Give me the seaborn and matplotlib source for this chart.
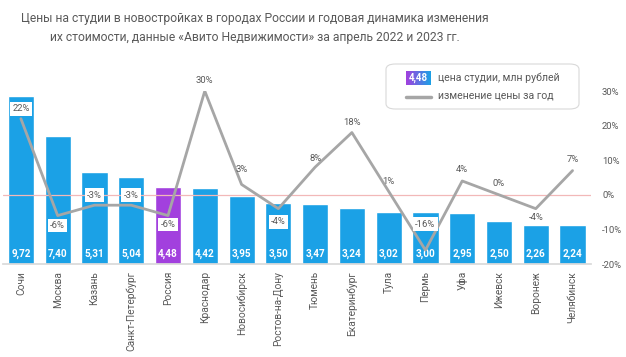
import numpy as np
import pandas as pd
import matplotlib.pyplot as plt
import seaborn as sns
from matplotlib.patches import FancyBboxPatch
from matplotlib.lines import Line2D
from matplotlib.colors import LinearSegmentedColormap

# Data
cities = ["Сочи", "Москва", "Казань", "Санкт-Петербург", "Россия", "Краснодар",
          "Новосибирск", "Ростов-на-Дону", "Тюмень", "Екатеринбург", "Тула",
          "Пермь", "Уфа", "Ижевск", "Воронеж", "Челябинск"]
prices = [9.72, 7.40, 5.31, 5.04, 4.48, 4.42, 3.95, 3.50, 3.47, 3.24, 3.02,
          3.00, 2.95, 2.50, 2.26, 2.24]
changes = [22, -6, -3, -3, -6, 30, 3, -4, 8, 18, 1, -16, 4, 0, -4, 7]

# label style: offset in px (positive = above), boxed or not
label_dy = [10, -10, 10, 10, -9, 11, 15, -13, 9, 10, 10, 26, 11, 11, -9, 11]
label_box = [True, True, True, True, True, False, False, True, False, False,
             False, True, False, False, False, False]

BLUE = "#1BA1E6"
PURPLE = "#A240DE"
GRAY_TXT = "#595959"

sns.set_theme(style="white")
plt.rcParams["font.family"] = ["Roboto", "DejaVu Sans"]

df = pd.DataFrame({"city": cities, "price": prices, "change": changes})
colors = [PURPLE if c == "Россия" else BLUE for c in cities]

W, H = 626, 357
fig = plt.figure(figsize=(W / 100, H / 100), dpi=100)
ax = fig.add_axes([0.004, 0.2605, 0.94, 0.4845])

sns.barplot(data=df, x="city", y="price", hue="city", palette=colors,
            legend=False, width=0.71, ax=ax, saturation=1)
ax.set_ylim(0, 10)
ax.set_xlim(-0.5, len(cities) - 0.5)
ax.set_yticks([])
ax.set_ylabel("")
ax.set_xlabel("")
for s in ["left", "right", "top"]:
    ax.spines[s].set_visible(False)
ax.spines["bottom"].set_color("#D9D9D9")
ax.tick_params(axis="x", length=0, pad=5)
ax.set_xticks(range(len(cities)))
ax.set_xticklabels(cities, rotation=90, fontsize=7.3, color=GRAY_TXT)

for i, p in enumerate(prices):
    ax.annotate(f"{p:.2f}".replace(".", ","), (i, 0), xytext=(0, 7.5),
                textcoords="offset points", ha="center", va="center",
                color="white", fontsize=7.2, fontweight="bold")

ax2 = ax.twinx()
ax2.axhline(0, color="#F2B8B8", lw=0.9, zorder=1)
sns.lineplot(x=np.arange(len(cities)), y=df["change"], ax=ax2,
             color="#A6A6A6", lw=2.0, zorder=3)
ax2.set_ylim(-20, 30)
ax2.set_yticks([-20, -10, 0, 10, 20, 30])
ax2.set_yticklabels([f"{t}%" for t in [-20, -10, 0, 10, 20, 30]],
                    fontsize=6.8, color=GRAY_TXT)
ax2.tick_params(axis="y", length=0, pad=8)
ax2.set_ylabel("")
for s in ["left", "right", "top", "bottom"]:
    ax2.spines[s].set_visible(False)

for i, (v, dy, box) in enumerate(zip(changes, label_dy, label_box)):
    kw = {}
    if box:
        kw["bbox"] = dict(boxstyle="square,pad=0.25", fc="white", ec="none")
    ax2.annotate(f"{v}%", (i, v), xytext=(0, dy * 0.72),
                 textcoords="offset points", ha="center", va="center",
                 fontsize=6.8, color=GRAY_TXT, zorder=5, **kw)

# Title
fig.text(255 / W, 1 - 28 / H,
         "Цены на студии в новостройках в городах России и годовая динамика изменения\n"
         "их стоимости, данные «Авито Недвижимости» за апрель 2022 и 2023 гг.",
         ha="center", va="center", fontsize=8.7, color=GRAY_TXT, linespacing=1.6)

# Legend box
fig.patches.append(FancyBboxPatch((386 / W, 1 - 109 / H), 193 / W, 45 / H,
                                  boxstyle="round,pad=0,rounding_size=0.015",
                                  transform=fig.transFigure, fc="white",
                                  ec="#D9D9D9", lw=0.8, zorder=10))
grad_ax = fig.add_axes([406 / W, 1 - 85 / H, 25 / W, 14 / H], zorder=11)
grad = LinearSegmentedColormap.from_list("g", [PURPLE, BLUE])
grad_ax.imshow(np.linspace(0, 1, 50)[None, :], cmap=grad, aspect="auto")
grad_ax.set_axis_off()
grad_ax.text(0.5, 0.5, "4,48", transform=grad_ax.transAxes, ha="center",
             va="center", color="white", fontsize=7, fontweight="bold")
fig.lines.append(Line2D([406 / W, 431 / W], [1 - 97 / H, 1 - 97 / H],
                        transform=fig.transFigure, color="#A6A6A6", lw=2.5,
                        zorder=11))
fig.text(438 / W, 1 - 78 / H, "цена студии, млн рублей", ha="left",
         va="center", color=GRAY_TXT, fontsize=7.6, zorder=12)
fig.text(438 / W, 1 - 95 / H, "изменение цены за год", ha="left",
         va="center", color=GRAY_TXT, fontsize=7.6, zorder=12)

fig.savefig("out.png", dpi=100)
